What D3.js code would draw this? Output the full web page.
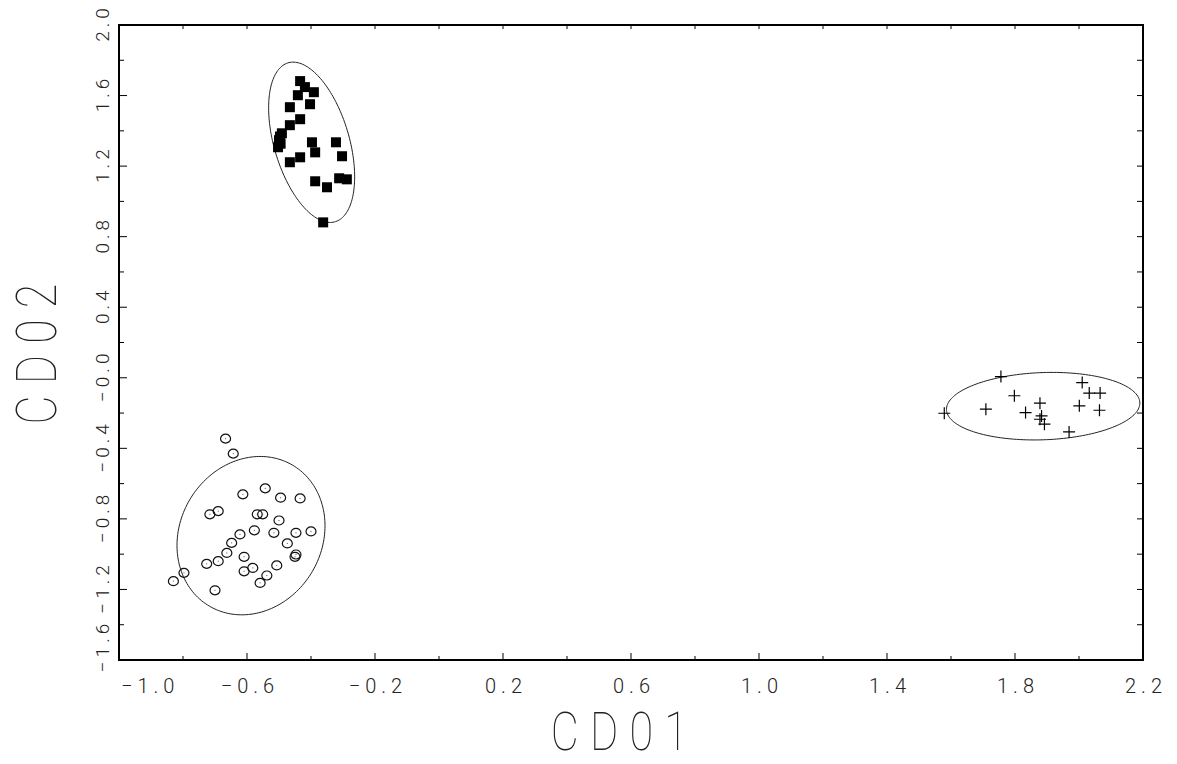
<!DOCTYPE html>
<html lang="en">
<head>
    <meta charset="UTF-8">
    <title>CD01 vs CD02</title>
    <script src="https://d3js.org/d3.v7.min.js"></script>
    <style>
        body {
            margin: 0;
            background-color: #ffffff;
        }
        svg {
            display: block;
        }
        .tick-label {
            font-family: Roboto, "DejaVu Sans", sans-serif;
            font-weight: 300;
            fill: #222;
        }
        .axis-title {
            font-family: Roboto, "DejaVu Sans", sans-serif;
            font-weight: 100;
            fill: #222;
        }
    </style>
</head>
<body>
    <div id="chart"></div>

    <script>
        // Данные: три группы точек (CD01, CD02)
        const squaresX = [-0.434, -0.419, -0.391, -0.441, -0.403, -0.466, -0.434, -0.466, -0.491, -0.500,
                          -0.503, -0.397, -0.387, -0.322, -0.303, -0.434, -0.466, -0.387, -0.350, -0.312,
                          -0.288, -0.362, -0.497, -0.495];
        const squaresY = [1.682, 1.648, 1.619, 1.602, 1.551, 1.534, 1.466, 1.432, 1.386, 1.347,
                          1.307, 1.335, 1.278, 1.335, 1.256, 1.250, 1.222, 1.114, 1.080, 1.131,
                          1.125, 0.881, 1.368, 1.327];

        const circlesX = [-0.667, -0.643, -0.543, -0.613, -0.495, -0.434, -0.716, -0.690, -0.568, -0.551,
                          -0.500, -0.577, -0.622, -0.516, -0.447, -0.400, -0.648, -0.474, -0.663, -0.447,
                          -0.450, -0.690, -0.726, -0.609, -0.609, -0.582, -0.507, -0.538, -0.559, -0.797,
                          -0.830, -0.700];
        const circlesY = [-0.345, -0.430, -0.627, -0.661, -0.680, -0.684, -0.774, -0.756, -0.774, -0.774,
                          -0.809, -0.865, -0.888, -0.879, -0.879, -0.871, -0.936, -0.939, -0.993, -1.002,
                          -1.015, -1.040, -1.055, -1.015, -1.097, -1.078, -1.064, -1.121, -1.163, -1.106,
                          -1.153, -1.205];

        const plusesX = [1.756, 2.010, 2.032, 2.066, 1.798, 1.579, 1.709, 1.878, 1.833, 2.001,
                         2.064, 1.883, 1.878, 1.892, 1.969];
        const plusesY = [0.007, -0.027, -0.087, -0.087, -0.102, -0.201, -0.178, -0.144, -0.197, -0.159,
                         -0.184, -0.216, -0.235, -0.263, -0.307];

        // Эллипсы групп: центр и матрица разброса (в единицах данных)
        const ellipseCenters = [[-0.398, 1.335], [-0.5875, -0.895], [1.888, -0.161]];
        const ellipseSpread = [
            [0.01806, -0.02628, 0.2066],   // sxx, sxy, syy
            [0.05348, 0.01287, 0.2015],
            [0.0913, 0.00533, 0.03667]
        ];

        // Деления осей
        const xTicks = d3.range(17).map(i => -1.0 + 0.2 * i);
        const yTicks = d3.range(19).map(i => -1.6 + 0.2 * i);
        const xLabels = ["−1.0", "−0.6", "−0.2", "0.2", "0.6", "1.0", "1.4", "1.8", "2.2"];
        const yLabels = ["−1.6", "−1.2", "−0.8", "−0.4", "−0.0", "0.4", "0.8", "1.2", "1.6", "2.0"];

        // Размеры
        const width = 1177;
        const height = 764;
        const margin = { left: 119, top: 25, right: 34, bottom: 104 };

        const svg = d3.select("#chart")
            .append("svg")
            .attr("width", width)
            .attr("height", height);

        const x = d3.scaleLinear()
            .domain([-1.0, 2.2])
            .range([margin.left, width - margin.right]);

        const y = d3.scaleLinear()
            .domain([-1.6, 2.0])
            .range([height - margin.bottom, margin.top]);

        const x0 = x.range()[0], x1 = x.range()[1];
        const y0 = y.range()[1], y1 = y.range()[0];

        // Деления: внизу и слева длинные/короткие, сверху и справа короткие
        const ticks = svg.append("g")
            .attr("stroke", "#000")
            .attr("stroke-width", 1);

        xTicks.forEach((v, i) => {
            const major = i % 2 === 0;
            ticks.append("line")
                .attr("x1", x(v)).attr("x2", x(v))
                .attr("y1", y1).attr("y2", y1 - (major ? 7 : 4));
            ticks.append("line")
                .attr("x1", x(v)).attr("x2", x(v))
                .attr("y1", y0).attr("y2", y0 + 4);
        });

        yTicks.forEach((v, i) => {
            const major = i % 2 === 0;
            ticks.append("line")
                .attr("x1", x0).attr("x2", x0 + (major ? 8 : 5))
                .attr("y1", y(v)).attr("y2", y(v));
            ticks.append("line")
                .attr("x1", x1).attr("x2", x1 - 6)
                .attr("y1", y(v)).attr("y2", y(v));
        });

        // Рамка
        svg.append("rect")
            .attr("x", x0)
            .attr("y", y0)
            .attr("width", x1 - x0)
            .attr("height", y1 - y0)
            .attr("fill", "none")
            .attr("stroke", "#000")
            .attr("stroke-width", 2);

        // Подписи по X
        svg.append("g")
            .selectAll("text")
            .data(xLabels)
            .enter()
            .append("text")
            .attr("class", "tick-label")
            .attr("x", (d, i) => i === 0 ? x0 + 2 : x(-1.0 + 0.4 * i) + 3)
            .attr("y", 693)
            .attr("text-anchor", (d, i) => i === 0 ? "start" : "middle")
            .style("font-size", "20px")
            .style("letter-spacing", "5px")
            .text(d => d);

        // Подписи по Y (повёрнутые)
        svg.append("g")
            .selectAll("text")
            .data(yLabels)
            .enter()
            .append("text")
            .attr("class", "tick-label")
            .attr("transform", (d, i) => {
                const yy = i === 0 ? y(-1.6) - 12 : y(-1.6 + 0.4 * i);
                return `translate(109,${yy}) rotate(-90)`;
            })
            .attr("text-anchor", "middle")
            .attr("dx", "2px")
            .style("font-size", "19px")
            .style("letter-spacing", "4px")
            .text(d => d);

        // Названия осей
        svg.append("text")
            .attr("class", "axis-title")
            .attr("transform", `translate(${(x0 + x1) / 2 - 6},750) scale(0.8,1)`)
            .attr("text-anchor", "middle")
            .style("font-size", "54px")
            .style("letter-spacing", "14px")
            .text("CD01");

        svg.append("text")
            .attr("class", "axis-title")
            .attr("transform", `translate(56,${(y0 + y1) / 2 + 6}) rotate(-90) scale(0.8,1)`)
            .attr("text-anchor", "middle")
            .style("font-size", "56px")
            .style("letter-spacing", "14px")
            .text("CD02");

        // Эллипсы (через разложение Холецкого матрицы разброса)
        const line = d3.line().curve(d3.curveLinearClosed);
        ellipseCenters.forEach((c, k) => {
            const [sxx, sxy, syy] = ellipseSpread[k];
            const l11 = Math.sqrt(sxx);
            const l21 = sxy / l11;
            const l22 = Math.sqrt(syy - l21 * l21);
            const pts = d3.range(0, 2 * Math.PI, Math.PI / 90).map(t => {
                const u = Math.cos(t), w = Math.sin(t);
                return [x(c[0] + l11 * u), y(c[1] + l21 * u + l22 * w)];
            });
            svg.append("path")
                .attr("d", line(pts))
                .attr("fill", "none")
                .attr("stroke", "#222")
                .attr("stroke-width", 1);
        });

        // Квадраты
        svg.append("g")
            .selectAll("rect")
            .data(d3.zip(squaresX, squaresY))
            .enter()
            .append("rect")
            .attr("x", d => x(d[0]) - 5)
            .attr("y", d => y(d[1]) - 5)
            .attr("width", 10)
            .attr("height", 10)
            .attr("fill", "#000");

        // Кружки с точкой в центре
        const circ = svg.append("g")
            .selectAll("g")
            .data(d3.zip(circlesX, circlesY))
            .enter()
            .append("g")
            .attr("transform", d => `translate(${x(d[0])},${y(d[1])})`);
        circ.append("ellipse")
            .attr("rx", 5)
            .attr("ry", 4.5)
            .attr("fill", "none")
            .attr("stroke", "#111")
            .attr("stroke-width", 1.2);
        circ.append("rect")
            .attr("x", -0.5).attr("y", -0.5)
            .attr("width", 1).attr("height", 1)
            .attr("fill", "#555");

        // Крестики
        svg.append("g")
            .attr("stroke", "#000")
            .attr("stroke-width", 1.2)
            .selectAll("path")
            .data(d3.zip(plusesX, plusesY))
            .enter()
            .append("path")
            .attr("d", d => {
                const px = x(d[0]), py = y(d[1]);
                return `M${px - 6},${py}H${px + 6}M${px},${py - 6}V${py + 6}`;
            });
    </script>
</body>
</html>
